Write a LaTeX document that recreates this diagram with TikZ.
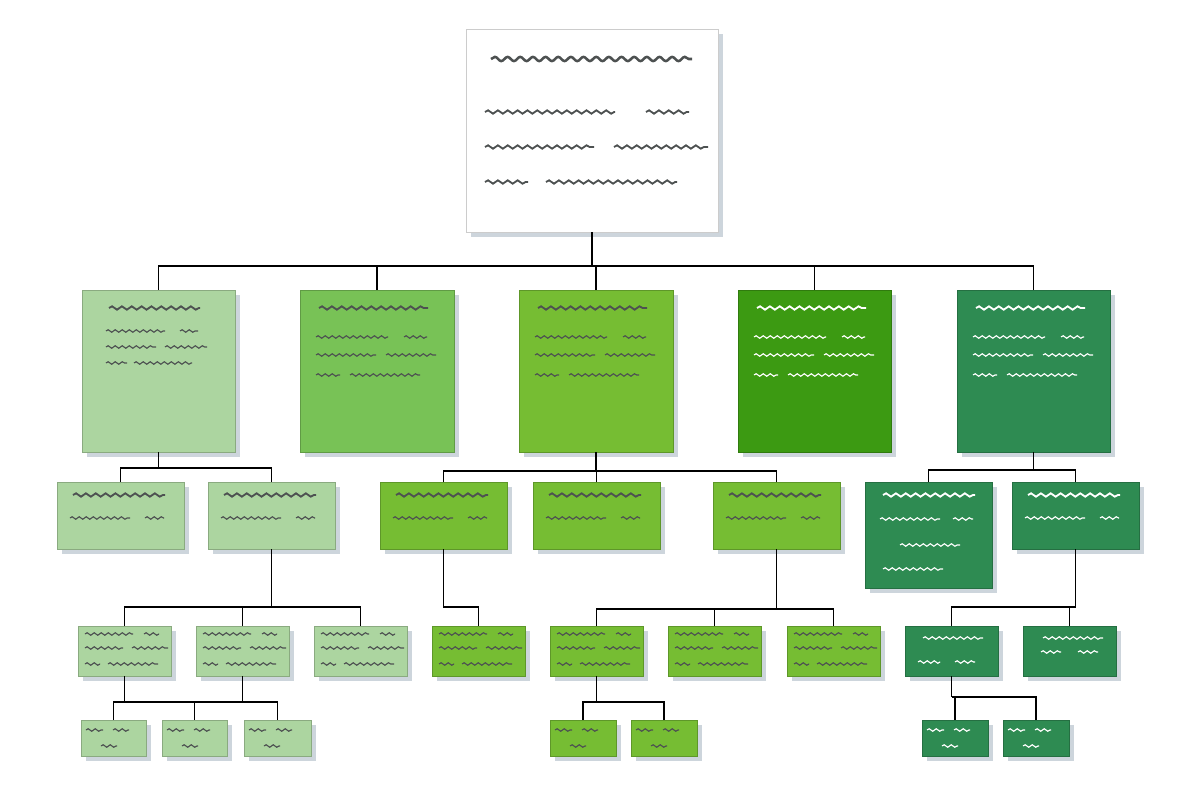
\documentclass[tikz,border=0pt]{standalone}
\usetikzlibrary{decorations.pathmorphing,shadows}
\definecolor{lgreen}{HTML}{ACD5A0}
\definecolor{mgreen}{HTML}{78C256}
\definecolor{ggreen}{HTML}{76BD33}
\definecolor{dgreen}{HTML}{3C9A12}
\definecolor{tgreen}{HTML}{2E8B52}
\definecolor{ink}{HTML}{4D5151}
\definecolor{shade}{HTML}{CDD5DC}
\tikzset{
  box/.style={draw=#1!80!black,fill=#1,inner sep=0,outer sep=0,
    drop shadow={shadow xshift=3.5pt,shadow yshift=-3.5pt,fill=shade,opacity=1}},
  wbig/.style={draw=#1,line width=1.8pt,decorate,decoration={snake,amplitude=1.5pt,segment length=9pt}},
  wmid/.style={draw=#1,line width=1.3pt,decorate,decoration={snake,amplitude=1.2pt,segment length=7pt}},
  wsml/.style={draw=#1,line width=0.8pt,decorate,decoration={snake,amplitude=0.9pt,segment length=5pt}},
  link/.style={line width=0.9pt}
}
% box from corners (x1,y1) to (x2,y2) in px
\newcommand\bx[6]{\node[box=#6,minimum width={(#4-#2)*0.025cm},minimum height={(#5-#3)*0.025cm}] (#1) at ({(#2+#4)/2},{(#3+#5)/2}) {};}
% squiggle: style, x0, y0, from, to, dy
\newcommand\wl[6]{\draw[#1] ({#2+#4},{#3+#6}) -- ({#2+#5},{#3+#6});}
\newcommand\tfour[3]{\wl{wmid=#3}{#1}{#2}{19}{128}{18}
  \wl{wsml=#3}{#1}{#2}{16}{88}{47}\wl{wsml=#3}{#1}{#2}{104}{127}{47}
  \wl{wsml=#3}{#1}{#2}{16}{76}{65}\wl{wsml=#3}{#1}{#2}{86}{136}{65}
  \wl{wsml=#3}{#1}{#2}{16}{40}{85}\wl{wsml=#3}{#1}{#2}{50}{120}{85}}
\newcommand\ttwo[3]{\wl{wmid=#3}{#1}{#2}{16}{108}{13}
  \wl{wsml=#3}{#1}{#2}{13}{73}{36}\wl{wsml=#3}{#1}{#2}{88}{107}{36}}
\newcommand\tthree[3]{\wl{wsml=#3}{#1}{#2}{7}{55}{8}\wl{wsml=#3}{#1}{#2}{66}{81}{8}
  \wl{wsml=#3}{#1}{#2}{7}{45}{22}\wl{wsml=#3}{#1}{#2}{54}{90}{22}
  \wl{wsml=#3}{#1}{#2}{7}{22}{38}\wl{wsml=#3}{#1}{#2}{30}{80}{38}}
\newcommand\tsmall[3]{\wl{wsml=#3}{#1}{#2}{5}{22}{10}\wl{wsml=#3}{#1}{#2}{32}{48}{10}
  \wl{wsml=#3}{#1}{#2}{20}{36}{26}}
\begin{document}
\begin{tikzpicture}[x=0.025cm,y=-0.025cm]
\useasboundingbox (0,0) rectangle (1200,800);
% boxes
\bx{root}{466}{29}{718}{232}{white}
\bx{b1}{82}{290}{235}{452}{lgreen}
\bx{b2}{300}{290}{454}{452}{mgreen}
\bx{b3}{519}{290}{673}{452}{ggreen}
\bx{b4}{738}{290}{891}{452}{dgreen}
\bx{b5}{957}{290}{1110}{452}{tgreen}
\bx{a1}{57}{482}{184}{549}{lgreen}
\bx{a2}{208}{482}{335}{549}{lgreen}
\bx{c1}{380}{482}{507}{549}{ggreen}
\bx{c2}{533}{482}{660}{549}{ggreen}
\bx{c3}{713}{482}{840}{549}{ggreen}
\bx{e1}{865}{482}{992}{588}{tgreen}
\bx{e2}{1012}{482}{1139}{549}{tgreen}
\bx{a21}{78}{626}{171}{676}{lgreen}
\bx{a22}{196}{626}{289}{676}{lgreen}
\bx{a23}{314}{626}{407}{676}{lgreen}
\bx{c11}{432}{626}{525}{676}{ggreen}
\bx{c31}{550}{626}{643}{676}{ggreen}
\bx{c32}{668}{626}{761}{676}{ggreen}
\bx{c33}{787}{626}{880}{676}{ggreen}
\bx{e21}{905}{626}{998}{676}{tgreen}
\bx{e22}{1023}{626}{1116}{676}{tgreen}
\bx{a41}{81}{720}{146}{756}{lgreen}
\bx{a42}{162}{720}{227}{756}{lgreen}
\bx{a43}{244}{720}{311}{756}{lgreen}
\bx{c41}{550}{720}{616}{756}{ggreen}
\bx{c42}{631}{720}{697}{756}{ggreen}
\bx{e41}{922}{720}{988}{756}{tgreen}
\bx{e42}{1003}{720}{1069}{756}{tgreen}
% connectors
\draw[link] (root.south) -- ++(0,34) coordinate (jr);
\foreach \n in {b1,b2,b3,b4,b5} \draw[link] (jr) -| (\n.north);
\draw[link] (b1.south) -- ++(0,16) coordinate (ja);
\foreach \n in {a1,a2} \draw[link] (ja) -| (\n.north);
\draw[link] (b3.south) -- ++(0,19) coordinate (jc);
\foreach \n in {c1,c2,c3} \draw[link] (jc) -| (\n.north);
\draw[link] (b5.south) -- ++(0,18) coordinate (je);
\foreach \n in {e1,e2} \draw[link] (je) -| (\n.north);
\draw[link] (a2.south) -- ++(0,58) coordinate (jaa);
\foreach \n in {a21,a22,a23} \draw[link] (jaa) -| (\n.north);
\draw[link] (c1.south) -- ++(0,58) -| (c11.north);
\draw[link] (c3.south) -- ++(0,60) coordinate (jcc);
\foreach \n in {c31,c32,c33} \draw[link] (jcc) -| (\n.north);
\draw[link] (e2.south) -- ++(0,58) coordinate (jee);
\foreach \n in {e21,e22} \draw[link] (jee) -| (\n.north);
\draw[link] (a21.south) -- ++(0,26) coordinate (j4a);
\draw[link] (a22.south) -- (a22.south |- j4a);
\foreach \n in {a41,a42,a43} \draw[link] (j4a) -| (\n.north);
\draw[link] (c31.south) -- ++(0,26) coordinate (j4c);
\foreach \n in {c41,c42} \draw[link] (j4c) -| (\n.north);
\draw[link] (e21.south) -- ++(0,21) coordinate (j4e);
\foreach \n in {e41,e42} \draw[link] (j4e) -| (\n.north);
% placeholder text
\wl{wbig=ink}{466}{29}{25}{226}{30}
\wl{wmid=ink}{466}{29}{19}{149}{83}\wl{wmid=ink}{466}{29}{180}{223}{83}
\wl{wmid=ink}{466}{29}{19}{128}{118}\wl{wmid=ink}{466}{29}{148}{242}{118}
\wl{wmid=ink}{466}{29}{19}{62}{153}\wl{wmid=ink}{466}{29}{80}{211}{153}
\wl{wmid=ink}{82}{290}{27}{118}{18}
\wl{wsml=ink}{82}{290}{24}{83}{41}\wl{wsml=ink}{82}{290}{98}{116}{41}
\wl{wsml=ink}{82}{290}{24}{74}{57}\wl{wsml=ink}{82}{290}{83}{125}{57}
\wl{wsml=ink}{82}{290}{24}{45}{73}\wl{wsml=ink}{82}{290}{52}{110}{73}
\tfour{300}{290}{ink}\tfour{519}{290}{ink}
\tfour{738}{290}{white}\tfour{957}{290}{white}
\ttwo{57}{482}{ink}\ttwo{208}{482}{ink}
\ttwo{380}{482}{ink}\ttwo{533}{482}{ink}\ttwo{713}{482}{ink}
\ttwo{1012}{482}{white}
\wl{wmid=white}{865}{482}{18}{110}{13}
\wl{wsml=white}{865}{482}{15}{75}{37}\wl{wsml=white}{865}{482}{88}{108}{37}
\wl{wsml=white}{865}{482}{35}{95}{63}
\wl{wsml=white}{865}{482}{18}{78}{87}
\foreach \x in {78,196,314} {\tthree{\x}{626}{ink}}
\foreach \x in {432,550,668,787} {\tthree{\x}{626}{ink}}
\wl{wsml=white}{905}{626}{18}{78}{12}
\wl{wsml=white}{905}{626}{13}{35}{36}\wl{wsml=white}{905}{626}{50}{70}{36}
\wl{wsml=white}{1023}{626}{20}{80}{12}
\wl{wsml=white}{1023}{626}{18}{38}{26}\wl{wsml=white}{1023}{626}{55}{75}{26}
\foreach \x in {81,162,244,550,631} {\tsmall{\x}{720}{ink}}
\foreach \x in {922,1003} {\tsmall{\x}{720}{white}}
\end{tikzpicture}
\end{document}
